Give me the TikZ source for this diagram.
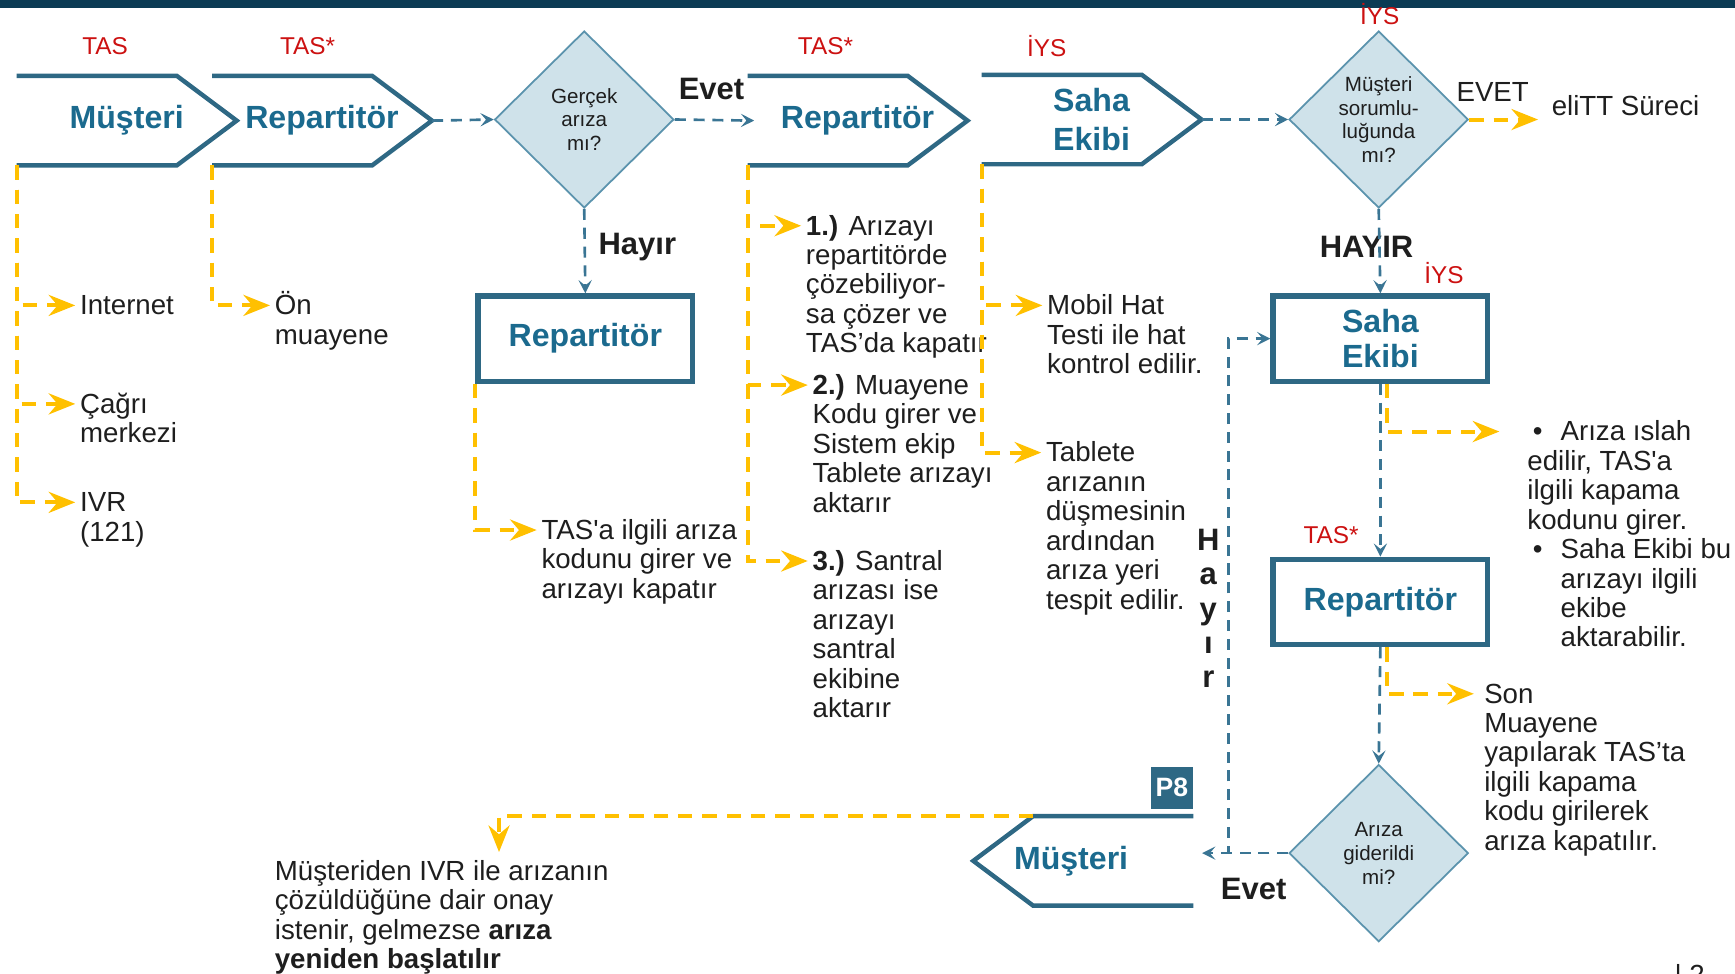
\documentclass[tikz,border=0pt]{standalone}
\usepackage{fontspec}
\setmainfont{Liberation Sans}
\usetikzlibrary{arrows.meta,shapes.geometric}

\definecolor{tealText}{HTML}{1B6A8E}
\definecolor{tealLine}{HTML}{2E6884}
\definecolor{tealDash}{HTML}{3A7594}
\definecolor{diaFill}{HTML}{CFE2EA}
\definecolor{diaLine}{HTML}{5B93AD}
\definecolor{noteYellow}{HTML}{FFC000}
\definecolor{tagRed}{HTML}{CC1111}
\definecolor{topBar}{HTML}{0B3B54}
\definecolor{noteInk}{HTML}{1E1E1E}

\newcommand\notefont{\fontsize{12.5pt}{13.3pt}\selectfont}
\newcommand\chevfont{\fontsize{14.5pt}{18pt}\selectfont\bfseries}
\newcommand\boxfont{\fontsize{14.5pt}{15.5pt}\selectfont\bfseries}
\newcommand\diafont{\fontsize{9.3pt}{10.8pt}\selectfont}
\newcommand\tagfont{\fontsize{11pt}{13pt}\selectfont}
\newcommand\answerfont{\fontsize{14pt}{15.5pt}\selectfont\bfseries}
\newcommand\lineTop{\rule{0pt}{12pt}}

\begin{document}
\begin{tikzpicture}
[x=0.5pt,y=-0.5pt,
  chevLabel/.style={minimum width=99pt,minimum height=40pt,inner sep=0pt,
    font=\chevfont,text=tealText,align=center},
  chevLine/.style={draw=tealLine,line width=2pt},
  boxDecorate/.style={draw=tealLine,line width=2.4pt,minimum width=97pt,
    minimum height=38.5pt,inner sep=0pt,font=\boxfont,text=tealText,align=center},
  decisionDecorate/.style={shape=diamond,draw=diaLine,fill=diaFill,line width=0.8pt,
    minimum width=81pt,minimum height=80pt,inner sep=0pt,align=center,
    font=\diafont,text=noteInk},
  flowArrow/.style={draw=tealDash,line width=1.2pt,dash pattern=on 5pt off 3.5pt,
    -{Stealth[length=6pt,width=6pt,inset=2.5pt]}},
  noteArrow/.style={draw=noteYellow,line width=1.8pt,dash pattern=on 6.5pt off 4.5pt,
    -{Stealth[length=12pt,width=9.5pt,inset=4pt]}},
  noteText/.style={anchor=north west,inner sep=0pt,align=left,font=\notefont,text=noteInk},
  tagLabel/.style={inner sep=0pt,font=\tagfont,text=tagRed},
  answerLabel/.style={inner sep=0pt,font=\answerfont,text=noteInk}]
\useasboundingbox (0,0) rectangle (1568,880);
\fill[topBar] (0,0) rectangle (1568,7);

%% process steps
\node (musteri) at (114.5,109) [chevLabel] {Müşteri};
\node (repOne) at (291,109) [chevLabel] {Repartitör};
\node (repTwo) at (775,109) [chevLabel] {Repartitör};
\node (sahaTop) at (986.5,108) [chevLabel] {Saha\\Ekibi};
\node (musteriEnd) at (979,778) [chevLabel] {Müşteri\hspace*{11pt}};
\foreach \n in {musteri,repOne,repTwo,sahaTop}
{
  \draw[chevLine] (\n.north west) -- ([xshift=-27pt]\n.north east) -- (\n.east)
    -- ([xshift=-27pt]\n.south east) -- (\n.south west);
}
\draw[chevLine] (musteriEnd.north east) -- ([xshift=27pt]musteriEnd.north west)
  -- (musteriEnd.west) -- ([xshift=27pt]musteriEnd.south west) -- (musteriEnd.south east);

\node (repBox) at (529,306) [boxDecorate] {Repartitör};
\node (sahaBox) at (1247.5,306) [boxDecorate] {Saha\\Ekibi};
\node (repBoxTwo) at (1247.5,544) [boxDecorate] {Repartitör};

%% decisions
\node (gercek) at (528,108) [decisionDecorate] {Gerçek\\arıza\\mı?};
\node (sorumlu) at (1246,108) [decisionDecorate] {Müşteri\\sorumlu-\\luğunda\\mı?};
\node (giderildi) at (1246,771) [decisionDecorate] {Arıza\\giderildi\\mi?};

\node (pSekiz) at (1059,712) [fill=tealLine,minimum size=19pt,inner sep=0pt,
  text=white,font=\fontsize{12pt}{12pt}\selectfont\bfseries] {P8};

%% owners
\foreach \tagname/\x/\y/\txt in {
  tagA/95/42/TAS, tagB/278/42/TAS*, tagC/746/42/TAS*, tagD/946/42/İYS,
  tagE/1247/13/İYS, tagF/1305/247/İYS, tagG/1203/484/TAS*}
{
  \node (\tagname) at (\x,\y) [tagLabel] {\txt};
}

%% notes
\node (internet) at (72,260) [noteText] {\lineTop Internet};
\node (cagri) at (72,349) [noteText] {\lineTop Çağrı\\merkezi};
\node (ivr) at (72,438) [noteText] {\lineTop IVR\\(121)};
\node (onMuayene) at (248,260) [noteText] {\lineTop Ön\\muayene};
\node (tasKapat) at (489,463) [noteText] {\lineTop TAS\textquotesingle a ilgili arıza\\kodunu girer ve\\arızayı kapatır};
\node (adimBir) at (728,188) [noteText] {\lineTop\textbf{1.)} Arızayı\\repartitörde\\çözebiliyor-\\sa çözer ve\\TAS’da kapatır};
\node (adimIki) at (734,332) [noteText] {\lineTop\textbf{2.)} Muayene\\Kodu girer ve\\Sistem ekip\\Tablete arızayı\\aktarır};
\node (adimUc) at (734,491) [noteText] {\lineTop\textbf{3.)} Santral\\arızası ise\\arızayı\\santral\\ekibine\\aktarır};
\node (mobilHat) at (946,260) [noteText] {\lineTop Mobil Hat\\Testi ile hat\\kontrol edilir.};
\node (tablete) at (945,393) [noteText] {\lineTop Tablete\\arızanın\\düşmesinin\\ardından\\arıza yeri\\tespit edilir.};
\node (islah) at (1380,374) [noteText] {\lineTop\hspace*{2.5pt}\makebox[12.5pt][l]{•}Arıza ıslah\\
  edilir, TAS\textquotesingle a\\ilgili kapama\\kodunu girer.\\
  \hspace*{2.5pt}\makebox[12.5pt][l]{•}Saha Ekibi bu\\\hspace*{15pt}arızayı ilgili\\
  \hspace*{15pt}ekibe\\\hspace*{15pt}aktarabilir.};
\node (sonMuayene) at (1341,611) [noteText] {\lineTop Son\\Muayene\\yapılarak TAS’ta\\ilgili kapama\\kodu girilerek\\arıza kapatılır.};
\node (onay) at (248,771) [noteText] {\lineTop Müşteriden IVR ile arızanın\\çözüldüğüne dair onay\\istenir, gelmezse \textbf{arıza}\\\textbf{yeniden başlatılır}};
\node (elitt) at (1402,80) [noteText] {\lineTop eliTT Süreci};
\node (sayfa) at (1513,871) [anchor=north west,inner sep=0pt,font=\notefont,text=noteInk] {| 2};

%% answers
\node (evetOne) at (643,80) [answerLabel] {Evet};
\node (hayirOne) at (576,223) [answerLabel] {Hayır};
\node (hayirTwo) at (1235,223) [answerLabel] {HAYIR};
\node (evetTwo) at (1349,83) [inner sep=0pt,font=\notefont,text=noteInk] {EVET};
\node (evetThree) at (1133,803) [answerLabel] {Evet};
\node (hayirThree) at (1092,550) [answerLabel,align=center] {H\\a\\y\\ı\\r};

%% flow lines
\draw[flowArrow] (repOne.east) -- (gercek.west);
\draw[flowArrow] (gercek.east) -- ([xshift=3pt]repTwo.west);
\draw[flowArrow] (sahaTop.east) -- (sorumlu.west);
\draw[flowArrow] (gercek.south) -- (repBox.north);
\draw[flowArrow] (sorumlu.south) -- (sahaBox.north);
\draw[flowArrow] (sahaBox.south) -- (repBoxTwo.north);
\draw[flowArrow] (repBoxTwo.south) -- (giderildi.north);
\draw[flowArrow] (giderildi.west) -- ([xshift=4pt]giderildi.west -| musteriEnd.east);
\coordinate (hayirBend) at (1110,771);
\draw[flowArrow] (giderildi.west) -- (hayirBend) |- (sahaBox.west);

%% note lines
\foreach \startnode/\endnode in {
  musteri/internet, musteri/cagri, musteri/ivr, repOne/onMuayene,
  repBox/tasKapat, repTwo/adimBir, repTwo/adimIki, repTwo/adimUc,
  sahaTop/mobilHat, sahaTop/tablete}
{
  \draw[noteArrow] (\startnode.south west) |- ([xshift=-2pt,yshift=-8pt]\endnode.north west);
}
\draw[noteArrow] ([xshift=3pt]sahaBox.south) |- ([xshift=-12.5pt,yshift=-8pt]islah.north west);
\draw[noteArrow] ([xshift=3pt]repBoxTwo.south) |- ([xshift=-4.5pt,yshift=-8pt]sonMuayene.north west);
\draw[noteArrow] (sorumlu.east) -- ([xshift=-6pt]sorumlu.east -| elitt.west);
\coordinate (onayTip) at (451,770);
\draw[noteArrow] ([xshift=27pt]musteriEnd.north west) -| (onayTip);
\end{tikzpicture}
\end{document}
